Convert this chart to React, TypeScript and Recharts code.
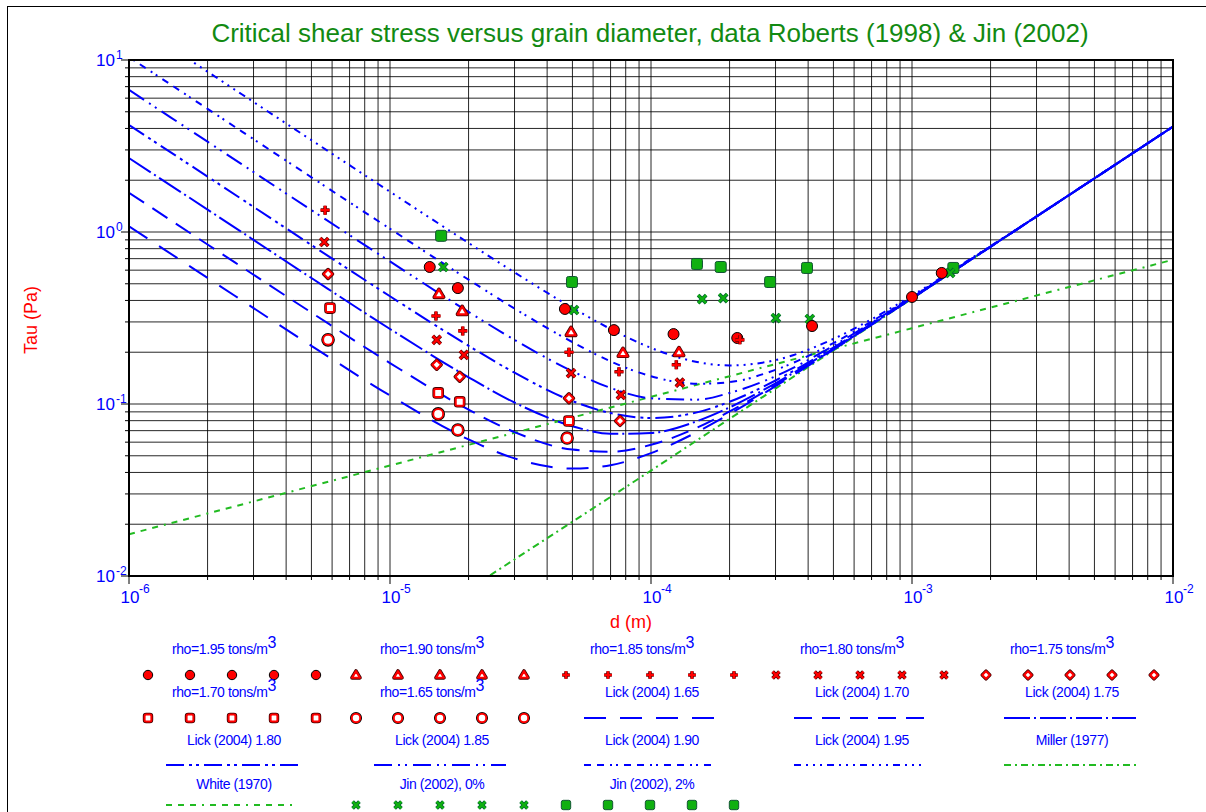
import React from "react";
import { CartesianGrid, ComposedChart, Line, Scatter, XAxis, YAxis } from "recharts";

const W = 1206;
const H = 812;
const BLUE = "#0000ff";
const RED = "#ff0000";
const GREEN = "#22bb22";
const JIN_GREEN = "#10b010";
const FONT = "'Liberation Sans', Arial, Helvetica, sans-serif";

// log axes
const X_DECADES = [-6, -5, -4, -3];
const Y_DECADES = [-2, -1, 0];
const MANTISSAS = [1, 2, 3, 4, 5, 6, 7, 8, 9];
const X_TICKS = [...X_DECADES.flatMap((e) => MANTISSAS.map((m) => m * 10 ** e)), 1e-2];
const Y_TICKS = [...Y_DECADES.flatMap((e) => MANTISSAS.map((m) => m * 10 ** e)), 10];

// Lick (2004) curves, read at these grain sizes (m)
const CURVE_D = [1e-6, 2e-6, 5e-6, 1e-5, 2e-5, 3e-5, 5e-5, 7e-5, 1e-4, 1.5e-4, 2e-4, 3e-4, 5e-4, 7e-4, 1e-3, 2e-3, 5e-3, 1e-2];
const LICK_165 = [1.08, 0.541, 0.218, 0.112, 0.0622, 0.0483, 0.0421, 0.0441, 0.0518, 0.0687, 0.0874, 0.127, 0.207, 0.289, 0.411, 0.821, 2.05, 4.1];
const LICK_170 = [1.69, 0.846, 0.34, 0.173, 0.0927, 0.0686, 0.0543, 0.0528, 0.0579, 0.0728, 0.0905, 0.129, 0.208, 0.289, 0.412, 0.821, 2.05, 4.1];
const LICK_175 = [2.69, 1.35, 0.54, 0.273, 0.143, 0.102, 0.0743, 0.0671, 0.0679, 0.0794, 0.0955, 0.132, 0.21, 0.291, 0.413, 0.821, 2.05, 4.1];
const LICK_180 = [4.19, 2.1, 0.84, 0.423, 0.218, 0.152, 0.104, 0.0886, 0.0829, 0.0894, 0.103, 0.137, 0.213, 0.293, 0.414, 0.822, 2.05, 4.1];
const LICK_185 = [6.7, 3.35, 1.34, 0.674, 0.343, 0.236, 0.155, 0.124, 0.108, 0.106, 0.116, 0.145, 0.218, 0.297, 0.417, 0.823, 2.05, 4.1];
const LICK_190 = [10.4, 5.2, 2.08, 1.044, 0.528, 0.359, 0.229, 0.177, 0.145, 0.131, 0.134, 0.158, 0.226, 0.302, 0.42, 0.825, 2.05, 4.1];
const LICK_195 = [17.1, 8.55, 3.42, 1.714, 0.863, 0.582, 0.3625, 0.273, 0.212, 0.1755, 0.1675, 0.18, 0.239, 0.311, 0.427, 0.829, 2.053, 4.1];

const MILLER_D = [2.42e-5, 1e-4, 1e-3, 1e-2];
const MILLER_TAU = [0.0101, 0.041, 0.41, 4.1];
const WHITE_D = [1e-6, 1e-5, 1e-4, 1e-3, 1e-2];
const WHITE_TAU = [0.0175, 0.0439, 0.11, 0.276, 0.69];

// Roberts (1998)
const R195_D = [1.42e-5, 1.82e-5, 4.68e-5, 7.21e-5, 1.22e-4, 2.14e-4, 4.14e-4, 1.0e-3, 1.3e-3];
const R195_TAU = [0.626, 0.472, 0.357, 0.269, 0.255, 0.242, 0.284, 0.419, 0.578];
const R190_D = [1.54e-5, 1.89e-5, 4.94e-5, 7.81e-5, 1.28e-4];
const R190_TAU = [0.436, 0.347, 0.262, 0.198, 0.2];
const R185_D = [5.64e-6, 1.5e-5, 1.9e-5, 4.85e-5, 7.54e-5, 1.25e-4, 2.19e-4];
const R185_TAU = [1.34, 0.325, 0.266, 0.2, 0.154, 0.169, 0.236];
const R180_D = [5.6e-6, 1.51e-5, 1.92e-5, 4.94e-5, 7.67e-5, 1.29e-4];
const R180_TAU = [0.875, 0.236, 0.193, 0.151, 0.113, 0.133];
const R175_D = [5.79e-6, 1.51e-5, 1.85e-5, 4.85e-5, 7.61e-5];
const R175_TAU = [0.57, 0.169, 0.144, 0.108, 0.0797];
const R170_D = [5.89e-6, 1.53e-5, 1.85e-5, 4.85e-5];
const R170_TAU = [0.361, 0.116, 0.103, 0.0797];
const R165_D = [5.79e-6, 1.53e-5, 1.82e-5, 4.77e-5];
const R165_TAU = [0.236, 0.0876, 0.0706, 0.0634];

// Jin (2002)
const JIN0_D = [1.6e-5, 5.07e-5, 1.57e-4, 1.89e-4, 3.01e-4, 4.06e-4, 1.4e-3];
const JIN0_TAU = [0.626, 0.352, 0.407, 0.413, 0.316, 0.312, 0.578];
const JIN2_D = [1.57e-5, 4.98e-5, 1.5e-4, 1.85e-4, 2.86e-4, 3.96e-4, 1.44e-3];
const JIN2_TAU = [0.95, 0.512, 0.652, 0.626, 0.512, 0.618, 0.618];

const rows = (d: number[], tau: number[]) => d.map((v, i) => ({ d: v, tau: tau[i] }));

const DASH = {
  l165: "22 14",
  l170: "18 10",
  l175: "26 4 2 4",
  l180: "18 5 3 4 3 5",
  l185: "18 6 2 5 2 6",
  l190: "7 6 7 6 2 4 2 6",
  l195: "7 5 2 5 2 5 2 5",
  miller: "7 4 2 4",
  white: "6 6 6 6 6 6 2 6",
};

const LICK = [
  { key: "l165", tau: LICK_165 },
  { key: "l170", tau: LICK_170 },
  { key: "l175", tau: LICK_175 },
  { key: "l180", tau: LICK_180 },
  { key: "l185", tau: LICK_185 },
  { key: "l190", tau: LICK_190 },
  { key: "l195", tau: LICK_195 },
];

function Mark({ kind, cx, cy, s = 1 }: { kind: string; cx: number; cy: number; s?: number }) {
  if (cx == null || cy == null) return null;
  switch (kind) {
    case "disc":
      return <circle cx={cx} cy={cy} r={5.5 * s} fill={RED} stroke="#000" strokeWidth={1} />;
    case "ring":
      return (
        <g>
          <circle cx={cx} cy={cy} r={5 * s} fill="#fff" stroke="#000" strokeWidth={3.6} />
          <circle cx={cx} cy={cy} r={5 * s} fill="#fff" stroke={RED} strokeWidth={2} />
        </g>
      );
    case "tri": {
      const r = 4.6 * s;
      const p = `${cx},${cy - r} ${cx + r},${cy + r * 0.7} ${cx - r},${cy + r * 0.7}`;
      return (
        <g>
          <polygon points={p} fill="#fff" stroke="#400" strokeWidth={3.8} strokeLinejoin="round" />
          <polygon points={p} fill="#fff" stroke={RED} strokeWidth={2.2} strokeLinejoin="round" />
        </g>
      );
    }
    case "plus": {
      const r = 4.5 * s;
      const d = `M${cx - r},${cy}H${cx + r}M${cx},${cy - r}V${cy + r}`;
      return (
        <g>
          <path d={d} stroke="#600" strokeWidth={3.6} />
          <path d={d} stroke={RED} strokeWidth={2.2} />
        </g>
      );
    }
    case "cross":
    case "jinx": {
      const r = 4 * s;
      const d = `M${cx - r},${cy - r}L${cx + r},${cy + r}M${cx - r},${cy + r}L${cx + r},${cy - r}`;
      return (
        <g>
          <path d={d} stroke={kind === "jinx" ? "#063" : "#500"} strokeWidth={3.8} />
          <path d={d} stroke={kind === "jinx" ? JIN_GREEN : RED} strokeWidth={2.2} />
        </g>
      );
    }
    case "diamond": {
      const r = 4.4 * s;
      const p = `${cx},${cy - r} ${cx + r},${cy} ${cx},${cy + r} ${cx - r},${cy}`;
      return (
        <g>
          <polygon points={p} fill="#fff" stroke="#400" strokeWidth={3.6} strokeLinejoin="round" />
          <polygon points={p} fill="#fff" stroke={RED} strokeWidth={2} strokeLinejoin="round" />
        </g>
      );
    }
    case "square": {
      const r = 4 * s;
      return (
        <g>
          <rect x={cx - r} y={cy - r} width={2 * r} height={2 * r} rx={1.5} fill="#fff" stroke="#400" strokeWidth={3.6} />
          <rect x={cx - r} y={cy - r} width={2 * r} height={2 * r} rx={1.5} fill="#fff" stroke={RED} strokeWidth={2} />
        </g>
      );
    }
    case "jinsq": {
      const r = 5.5 * s;
      return <rect x={cx - r} y={cy - r} width={2 * r} height={2 * r} rx={2} fill={JIN_GREEN} stroke="#153" strokeWidth={1} />;
    }
    default:
      return null;
  }
}

const SCATTERS = [
  { kind: "jinsq", data: rows(JIN2_D, JIN2_TAU) },
  { kind: "jinx", data: rows(JIN0_D, JIN0_TAU) },
  { kind: "ring", data: rows(R165_D, R165_TAU) },
  { kind: "square", data: rows(R170_D, R170_TAU) },
  { kind: "diamond", data: rows(R175_D, R175_TAU) },
  { kind: "cross", data: rows(R180_D, R180_TAU) },
  { kind: "disc", data: rows(R195_D, R195_TAU) },
  { kind: "tri", data: rows(R190_D, R190_TAU) },
  { kind: "plus", data: rows(R185_D, R185_TAU) },
];

function isMajor(v: number) {
  const e = Math.round(Math.log10(v));
  return { e, major: Math.abs(v / 10 ** e - 1) < 1e-6 };
}

function XTick(props: any) {
  const { x, y, payload } = props;
  const { e, major } = isMajor(payload.value);
  return (
    <g>
      <line x1={x} x2={x} y1={y} y2={y + (major ? 8 : 4)} stroke="#000" />
      {major && (
        <g fill={BLUE} fontFamily={FONT}>
          <text x={x + 1} y={y + 27} textAnchor="middle" fontSize={17}>10</text>
          <text x={x + 10} y={y + 17} fontSize={12}>{e}</text>
        </g>
      )}
    </g>
  );
}

function YTick(props: any) {
  const { x, y, payload } = props;
  const { e, major } = isMajor(payload.value);
  return (
    <g>
      <line x1={x - (major ? 8 : 4)} x2={x} y1={y} y2={y} stroke="#000" />
      {major && (
        <g fill={BLUE} fontFamily={FONT}>
          <text x={x - 14} y={y + 6} textAnchor="end" fontSize={17}>10</text>
          <text x={x - 13} y={y - 1} fontSize={12}>{e}</text>
        </g>
      )}
    </g>
  );
}

const COLS = [232, 440, 650, 860, 1070];
const ROW_TEXT = [654, 697, 745, 789];
const ROW_SYM = [675, 718, 765, 805];

const LEGEND = [
  { row: 0, col: 0, label: "rho=1.95 tons/m", sup: true, mark: "disc" },
  { row: 0, col: 1, label: "rho=1.90 tons/m", sup: true, mark: "tri" },
  { row: 0, col: 2, label: "rho=1.85 tons/m", sup: true, mark: "plus" },
  { row: 0, col: 3, label: "rho=1.80 tons/m", sup: true, mark: "cross" },
  { row: 0, col: 4, label: "rho=1.75 tons/m", sup: true, mark: "diamond" },
  { row: 1, col: 0, label: "rho=1.70 tons/m", sup: true, mark: "square" },
  { row: 1, col: 1, label: "rho=1.65 tons/m", sup: true, mark: "ring" },
  { row: 1, col: 2, label: "Lick (2004) 1.65", dash: DASH.l165, color: BLUE },
  { row: 1, col: 3, label: "Lick (2004) 1.70", dash: DASH.l170, color: BLUE },
  { row: 1, col: 4, label: "Lick (2004) 1.75", dash: DASH.l175, color: BLUE },
  { row: 2, col: 0, label: "Lick (2004) 1.80", dash: DASH.l180, color: BLUE },
  { row: 2, col: 1, label: "Lick (2004) 1.85", dash: DASH.l185, color: BLUE },
  { row: 2, col: 2, label: "Lick (2004) 1.90", dash: DASH.l190, color: BLUE },
  { row: 2, col: 3, label: "Lick (2004) 1.95", dash: DASH.l195, color: BLUE },
  { row: 2, col: 4, label: "Miller (1977)", dash: DASH.miller, color: GREEN },
  { row: 3, col: 0, label: "White (1970)", dash: DASH.white, color: GREEN },
  { row: 3, col: 1, label: "Jin (2002), 0%", mark: "jinx" },
  { row: 3, col: 2, label: "Jin (2002), 2%", mark: "jinsq" },
];

function Legend() {
  return (
    <g fontFamily={FONT} fontSize={14} fill={BLUE}>
      {LEGEND.map((it) => {
        const cx = COLS[it.col];
        const ty = ROW_TEXT[it.row];
        const sy = ROW_SYM[it.row];
        return (
          <g key={it.label}>
            <text x={it.sup ? cx - 8 : cx + 2} y={ty} textAnchor="middle" letterSpacing={-0.4}>
              {it.label}
              {it.sup && (
                <tspan dy={-6} fontSize={16}>3</tspan>
              )}
            </text>
            {it.mark &&
              [-2, -1, 0, 1, 2].map((k) => (
                <Mark key={k} kind={it.mark as string} cx={cx + k * 42} cy={sy} s={0.85} />
              ))}
            {it.dash && (
              <line x1={cx - 66} x2={cx + 66} y1={sy} y2={sy} stroke={it.color} strokeWidth={2} strokeDasharray={it.dash} />
            )}
          </g>
        );
      })}
    </g>
  );
}

export default function App() {
  return (
    <div style={{ position: "absolute", left: 0, top: 0, width: W, height: H, overflow: "hidden", background: "#fff" }}>
      <div style={{ position: "absolute", left: 0, top: 0 }}>
        <ComposedChart width={W} height={640} margin={{ top: 60, right: 33, bottom: 34, left: 69 }}>
          <CartesianGrid stroke="#000" strokeOpacity={0.85} syncWithTicks />
          <XAxis
            dataKey="d"
            type="number"
            scale="log"
            domain={[1e-6, 1e-2]}
            allowDataOverflow
            ticks={X_TICKS}
            interval={0}
            height={30}
            tickSize={0}
            tickMargin={0}
            tickLine={false}
            axisLine={{ stroke: "#000", strokeWidth: 2 }}
            tick={<XTick />}
          />
          <YAxis
            dataKey="tau"
            type="number"
            scale="log"
            domain={[0.01, 10]}
            allowDataOverflow
            ticks={Y_TICKS}
            interval={0}
            width={60}
            tickSize={0}
            tickMargin={0}
            tickLine={false}
            axisLine={{ stroke: "#000", strokeWidth: 2 }}
            tick={<YTick />}
          />
          <Line data={rows(WHITE_D, WHITE_TAU)} dataKey="tau" type="linear" dot={false} stroke={GREEN} strokeWidth={2} strokeDasharray={DASH.white} isAnimationActive={false} />
          <Line data={rows(MILLER_D, MILLER_TAU)} dataKey="tau" type="linear" dot={false} stroke={GREEN} strokeWidth={2} strokeDasharray={DASH.miller} isAnimationActive={false} />
          {LICK.map((c) => (
            <Line
              key={c.key}
              data={rows(CURVE_D, c.tau)}
              dataKey="tau"
              type="monotone"
              dot={false}
              stroke={BLUE}
              strokeWidth={2}
              strokeDasharray={DASH[c.key as keyof typeof DASH]}
              isAnimationActive={false}
            />
          ))}
          {SCATTERS.map((s) => (
            <Scatter
              key={s.kind}
              data={s.data}
              dataKey="tau"
              isAnimationActive={false}
              shape={(p: any) => <Mark kind={s.kind} cx={p.cx} cy={p.cy} />}
            />
          ))}
        </ComposedChart>
      </div>
      <svg width={W} height={H} style={{ position: "absolute", left: 0, top: 0, pointerEvents: "none" }}>
        <rect x={7.5} y={6.5} width={1400} height={1000} fill="none" stroke="#000" strokeWidth={1} />
        <rect x={129} y={60} width={1044} height={516} fill="none" stroke="#000" strokeWidth={2} />
        <text x={650} y={42} textAnchor="middle" fontFamily={FONT} fontSize={26} fill="#128a12">
          Critical shear stress versus grain diameter, data Roberts (1998) &amp; Jin (2002)
        </text>
        <text x={631} y={628} textAnchor="middle" fontFamily={FONT} fontSize={18} fill={RED}>d (m)</text>
        <text x={37} y={320} textAnchor="middle" fontFamily={FONT} fontSize={18} fill={RED} transform="rotate(-90 37 320)">Tau (Pa)</text>
        <Legend />
      </svg>
    </div>
  );
}
